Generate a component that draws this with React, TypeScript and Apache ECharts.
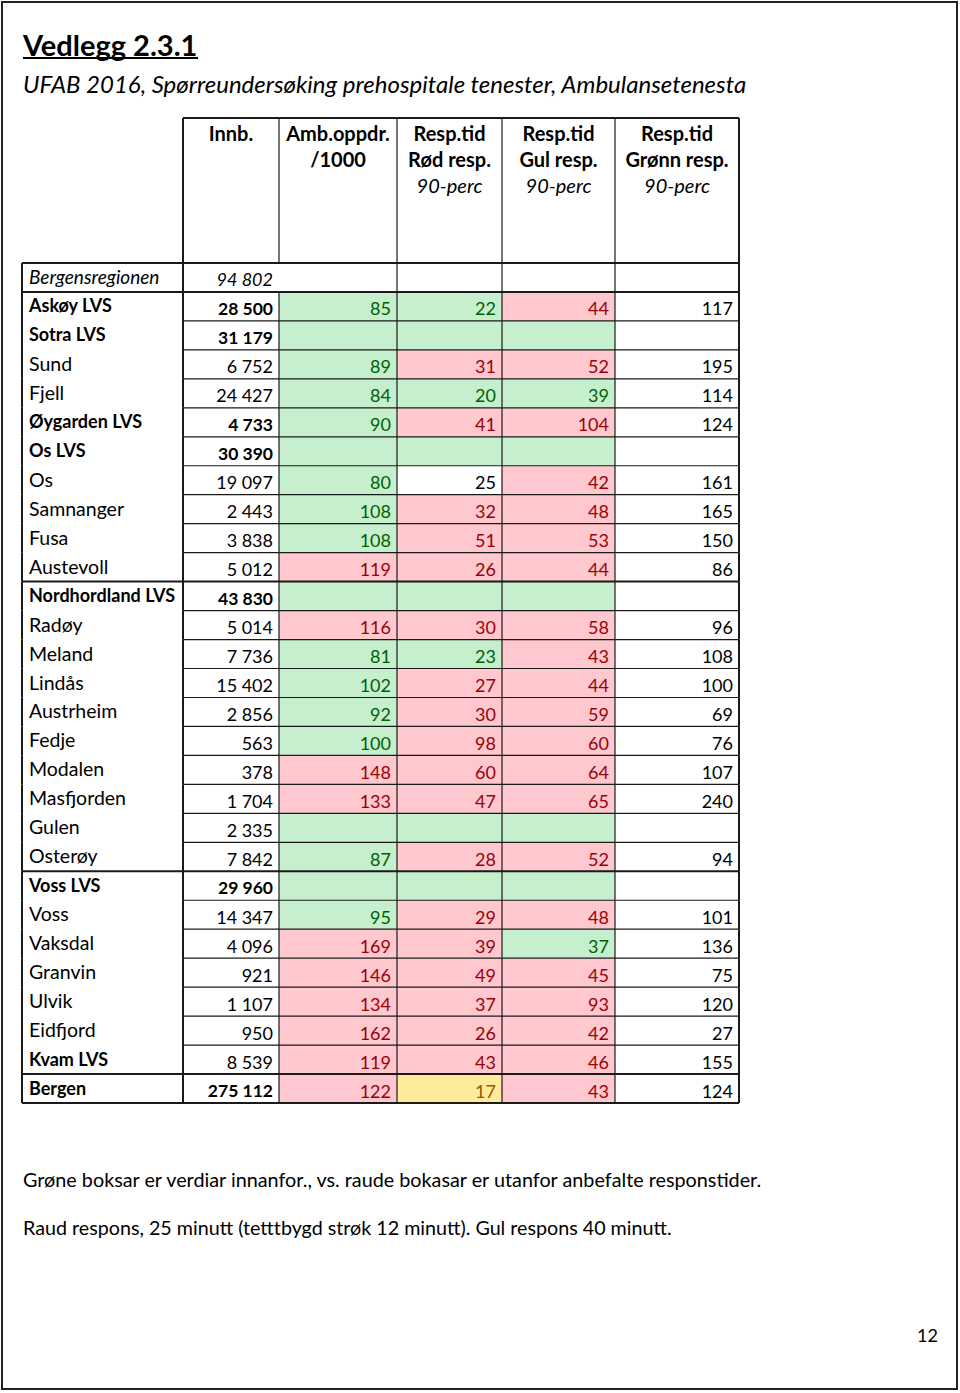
import React, { useEffect, useRef } from "react";
import * as echarts from "echarts";

// ---------- data ----------
const ROWS = [
  "Bergensregionen", "Askøy LVS", "Sotra LVS", "Sund", "Fjell", "Øygarden LVS", "Os LVS", "Os",
  "Samnanger", "Fusa", "Austevoll", "Nordhordland LVS", "Radøy", "Meland", "Lindås", "Austrheim",
  "Fedje", "Modalen", "Masfjorden", "Gulen", "Osterøy", "Voss LVS", "Voss", "Vaksdal", "Granvin",
  "Ulvik", "Eidfjord", "Kvam LVS", "Bergen",
];
const INNB = [
  "94 802", "28 500", "31 179", "6 752", "24 427", "4 733", "30 390", "19 097",
  "2 443", "3 838", "5 012", "43 830", "5 014", "7 736", "15 402", "2 856",
  "563", "378", "1 704", "2 335", "7 842", "29 960", "14 347", "4 096", "921",
  "1 107", "950", "8 539", "275 112",
];
const AMB = [null, 85, null, 89, 84, 90, null, 80, 108, 108, 119, null, 116, 81, 102, 92, 100, 148, 133, null, 87, null, 95, 169, 146, 134, 162, 119, 122];
const ROED = [null, 22, null, 31, 20, 41, null, 25, 32, 51, 26, null, 30, 23, 27, 30, 98, 60, 47, null, 28, null, 29, 39, 49, 37, 26, 43, 17];
const GUL = [null, 44, null, 52, 39, 104, null, 42, 48, 53, 44, null, 58, 43, 44, 59, 60, 64, 65, null, 52, null, 48, 37, 45, 93, 42, 46, 43];
const GROENN = [null, 117, null, 195, 114, 124, null, 161, 165, 150, 86, null, 96, 108, 100, 69, 76, 107, 240, null, 94, null, 101, 136, 75, 120, 27, 155, 124];
// g = within (green), r = outside (red), y = yellow, w = none
const AMB_STATUS = ["w", "g", "g", "g", "g", "g", "g", "g", "g", "g", "r", "g", "r", "g", "g", "g", "g", "r", "r", "g", "g", "g", "g", "r", "r", "r", "r", "r", "r"];
const ROED_STATUS = ["w", "g", "g", "r", "g", "r", "g", "w", "r", "r", "r", "g", "r", "g", "r", "r", "r", "r", "r", "g", "r", "g", "r", "r", "r", "r", "r", "r", "y"];
const GUL_STATUS = ["w", "r", "g", "r", "g", "r", "g", "r", "r", "r", "r", "g", "r", "r", "r", "r", "r", "r", "r", "g", "r", "g", "r", "g", "r", "r", "r", "r", "r"];
const BOLD_ROWS = ["Askøy LVS", "Sotra LVS", "Øygarden LVS", "Os LVS", "Nordhordland LVS", "Voss LVS", "Kvam LVS", "Bergen"];
const BOLD_INNB = ["Askøy LVS", "Sotra LVS", "Øygarden LVS", "Os LVS", "Nordhordland LVS", "Voss LVS", "Bergen"];
const ITALIC_ROWS = ["Bergensregionen"];
const GROUP_STARTS = ["Askøy LVS", "Nordhordland LVS", "Voss LVS", "Bergen"];

const TITLE = "Vedlegg 2.3.1";
const SUBTITLE = "UFAB 2016, Spørreundersøking prehospitale tenester, Ambulansetenesta";
const HEADERS = [
  ["Innb."],
  ["Amb.oppdr.", "/1000"],
  ["Resp.tid", "Rød resp.", "90-perc"],
  ["Resp.tid", "Gul resp.", "90-perc"],
  ["Resp.tid", "Grønn resp.", "90-perc"],
];
const NOTES = [
  "Grøne boksar er verdiar innanfor., vs. raude bokasar er utanfor anbefalte responstider.",
  "Raud respons, 25 minutt (tetttbygd strøk 12 minutt). Gul respons 40 minutt.",
];
const PAGE = "12";

// ---------- layout ----------
const FONT = "Lato, 'Liberation Sans', sans-serif";
const TABLE_LEFT = 22;
const TABLE_TOP = 263;
const TABLE_BOTTOM = 1103;
const COL_EDGES = [0, 161, 257, 375, 480, 593, 717];
const HEADER_TOP = 118;
const FILL: Record<string, string> = { g: "#c6efce", r: "#ffc7ce", y: "#ffeb9c", w: "#ffffff" };
const INK: Record<string, string> = { g: "#006100", r: "#9c0006", y: "#9c5700", w: "#000000" };
const LINE = "#1a1a1a";

const COLS: (string | number | null)[][] = [ROWS, INNB, AMB, ROED, GUL, GROENN];
const STATUS: (string[] | null)[] = [null, null, AMB_STATUS, ROED_STATUS, GUL_STATUS, null];

function cellData() {
  const d: number[][] = [];
  for (let r = 0; r < ROWS.length; r++) for (let c = 0; c < 6; c++) d.push([c, r]);
  return d;
}

function isGroupBoundaryBelow(r: number) {
  return r === ROWS.length - 1 || (r + 1 < ROWS.length && GROUP_STARTS.includes(ROWS[r + 1]));
}

function renderCell(params: any, api: any) {
  const c = api.value(0);
  const r = api.value(1);
  const [x0, yc] = api.coord([COL_EDGES[c], r]);
  const [x1] = api.coord([COL_EDGES[c + 1], r]);
  const h = api.size([0, 1])[1];
  const y0 = yc - h / 2;
  const st = STATUS[c] ? STATUS[c]![r] : "w";
  const v = COLS[c][r];
  const name = ROWS[r];
  const children: any[] = [
    { type: "rect", shape: { x: x0, y: y0, width: x1 - x0, height: h }, style: { fill: FILL[st] } },
  ];
  if (v !== null && v !== undefined) {
    let weight = "normal";
    let fstyle = "normal";
    let size = 18;
    if (c === 0) {
      size = 19.5;
      if (BOLD_ROWS.includes(name)) { weight = "bold"; size = 18; }
      if (ITALIC_ROWS.includes(name)) { fstyle = "italic"; size = 19; }
    } else if (c === 1) {
      if (BOLD_INNB.includes(name)) { weight = "bold"; size = 17.5; }
      if (ITALIC_ROWS.includes(name)) fstyle = "italic";
    }
    children.push({
      type: "text",
      x: c === 0 ? x0 + 7 : x1 - 6,
      y: c === 0 ? yc - 1 : yc + 2,
      style: {
        text: String(v),
        fill: INK[st],
        fontFamily: FONT,
        fontSize: size,
        fontWeight: weight,
        fontStyle: fstyle,
        align: c === 0 ? "left" : "right",
        verticalAlign: "middle",
      },
    });
  }
  return { type: "group", children };
}

function renderBorder(params: any, api: any) {
  const c = api.value(0);
  const r = api.value(1);
  const [x0, yc] = api.coord([COL_EDGES[c], r]);
  const [x1] = api.coord([COL_EDGES[c + 1], r]);
  const h = api.size([0, 1])[1];
  const y0 = yc - h / 2;
  const y1 = yc + h / 2;
  const lines: any[] = [];
  const ln = (ax: number, ay: number, bx: number, by: number, w: number) =>
    lines.push({ type: "line", shape: { x1: ax, y1: ay, x2: bx, y2: by }, style: { stroke: LINE, lineWidth: w } });
  const grp = isGroupBoundaryBelow(r);
  if (c !== 0 || r === 0 || grp) ln(x0, y1, x1, y1, grp ? 2 : 1.2);
  if (r === 0) ln(x0, y0, x1, y0, 2);
  if (c === 0) ln(x0, y0, x0, y1, 2);
  if (!(r === 0 && c === 1)) ln(x1, y0, x1, y1, c === 0 || c === 5 ? 2 : 1.2);
  return { type: "group", children: lines };
}

function headerGraphics() {
  const g: any[] = [];
  const xs = COL_EDGES.map((e) => TABLE_LEFT + e);
  g.push({ type: "line", shape: { x1: xs[1], y1: HEADER_TOP, x2: xs[6], y2: HEADER_TOP }, style: { stroke: LINE, lineWidth: 2 } });
  for (let i = 1; i <= 6; i++) {
    g.push({ type: "line", shape: { x1: xs[i], y1: HEADER_TOP, x2: xs[i], y2: TABLE_TOP }, style: { stroke: LINE, lineWidth: i === 1 || i === 6 ? 2 : 1.2 } });
  }
  HEADERS.forEach((lines, k) => {
    const cx = (xs[k + 1] + xs[k + 2]) / 2;
    lines.forEach((t, j) => {
      g.push({
        type: "text",
        x: cx,
        y: HEADER_TOP + 15 + j * 26,
        style: {
          text: t,
          fill: "#000",
          fontFamily: FONT,
          fontSize: 20,
          fontWeight: j === 2 ? "normal" : "bold",
          fontStyle: j === 2 ? "italic" : "normal",
          align: "center",
          verticalAlign: "middle",
        },
      });
    });
  });
  return g;
}

export default function App() {
  const ref = useRef<HTMLDivElement>(null);
  useEffect(() => {
    const chart = echarts.init(ref.current!, null, { renderer: "svg" });
    const option: any = {
      animation: false,
      backgroundColor: "#ffffff",
      grid: { left: TABLE_LEFT, top: TABLE_TOP, width: COL_EDGES[6], height: TABLE_BOTTOM - TABLE_TOP, containLabel: false },
      xAxis: { type: "value", min: 0, max: COL_EDGES[6], show: false },
      yAxis: { type: "category", data: ROWS, inverse: true, show: false },
      series: [
        { type: "custom", name: "cells", data: cellData(), renderItem: renderCell, clip: false, z: 2, silent: true },
        { type: "custom", name: "borders", data: cellData(), renderItem: renderBorder, clip: false, z: 3, silent: true },
      ],
      graphic: [
        { type: "rect", shape: { x: 2, y: 2, width: 955, height: 1387 }, style: { fill: "none", stroke: "#222", lineWidth: 2 } },
        { type: "text", x: 23, y: 44, style: { text: TITLE, fontFamily: FONT, fontSize: 29, fontWeight: "bold", fill: "#000", verticalAlign: "middle" } },
        { type: "line", shape: { x1: 23, y1: 58, x2: 198, y2: 58 }, style: { stroke: "#000", lineWidth: 2 } },
        { type: "text", x: 23, y: 83, style: { text: SUBTITLE, fontFamily: FONT, fontSize: 24, fontStyle: "italic", fill: "#000", verticalAlign: "middle" } },
        ...headerGraphics(),
        { type: "text", x: 23, y: 1179, style: { text: NOTES[0], fontFamily: FONT, fontSize: 19.8, fill: "#000", verticalAlign: "middle" } },
        { type: "text", x: 23, y: 1227, style: { text: NOTES[1], fontFamily: FONT, fontSize: 19.7, fill: "#000", verticalAlign: "middle" } },
        { type: "text", x: 938, y: 1335, style: { text: PAGE, fontFamily: FONT, fontSize: 18, fill: "#000", align: "right", verticalAlign: "middle" } },
      ],
    };
    chart.setOption(option);
    return () => chart.dispose();
  }, []);
  return <div ref={ref} style={{ position: "absolute", left: 0, top: 0, width: 960, height: 1393, background: "#fff" }} />;
}
